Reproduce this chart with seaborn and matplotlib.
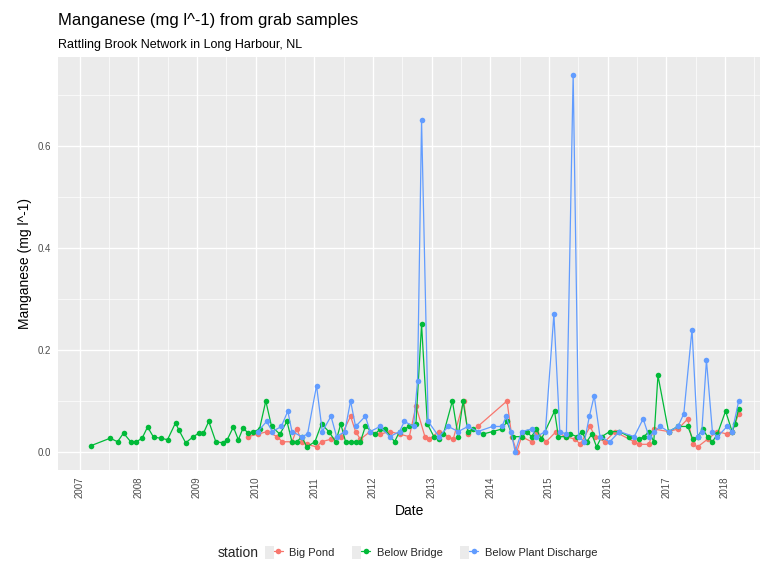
import matplotlib
matplotlib.use("Agg")
import matplotlib.pyplot as plt
from matplotlib.lines import Line2D
from matplotlib.patches import Patch
from matplotlib.legend_handler import HandlerTuple
import seaborn as sns
import pandas as pd

# ---------------- data ----------------
stations = ["Big Pond", "Below Bridge", "Below Plant Discharge"]
colors = ["#F8766D", "#00BA38", "#619CFF"]

big_pond_dates = [
    "2009-11-15", "2010-01-15", "2010-03-15", "2010-05-15", "2010-06-15", "2010-08-15",
    "2010-09-15", "2010-10-15", "2010-11-15", "2011-01-15", "2011-02-15", "2011-04-15",
    "2011-06-15", "2011-08-15", "2011-09-15", "2011-10-15", "2011-12-15", "2012-02-15",
    "2012-04-15", "2012-06-15", "2012-08-15", "2012-09-25", "2012-11-20", "2012-12-15",
    "2013-02-15", "2013-04-15", "2013-05-15", "2013-07-20", "2013-08-15", "2013-10-15",
    "2014-04-15", "2014-05-15", "2014-06-15", "2014-07-15", "2014-09-15", "2014-10-15",
    "2014-12-15", "2015-02-15", "2015-04-15", "2015-06-15", "2015-07-15", "2015-09-15",
    "2015-10-15", "2015-12-15", "2016-02-15", "2016-06-15", "2016-07-15", "2016-09-15",
    "2016-10-15", "2017-01-15", "2017-03-15", "2017-05-15", "2017-06-15", "2017-07-15",
    "2017-09-15", "2017-11-15", "2018-01-15", "2018-02-15", "2018-03-28",
]
big_pond_values = [
    0.030, 0.035, 0.040, 0.030, 0.020, 0.020,
    0.045, 0.020, 0.015, 0.010, 0.020, 0.025,
    0.030, 0.070, 0.040, 0.025, 0.040, 0.035,
    0.040, 0.035, 0.030, 0.090, 0.030, 0.025,
    0.040, 0.030, 0.025, 0.100, 0.035, 0.050,
    0.100, 0.030, 0.000, 0.030, 0.020, 0.040,
    0.020, 0.040, 0.030, 0.025, 0.015, 0.050,
    0.030, 0.020, 0.040, 0.020, 0.015, 0.015,
    0.045, 0.040, 0.045, 0.065, 0.015, 0.010,
    0.025, 0.040, 0.035, 0.040, 0.075,
]

below_bridge_dates = [
    "2007-03-10", "2007-07-10", "2007-08-25", "2007-10-01", "2007-11-15", "2007-12-20",
    "2008-01-25", "2008-02-28", "2008-04-05", "2008-05-20", "2008-07-01", "2008-08-20",
    "2008-09-10", "2008-10-22", "2008-12-05", "2009-01-12", "2009-02-10", "2009-03-15",
    "2009-04-28", "2009-06-10", "2009-07-08", "2009-08-15", "2009-09-15", "2009-10-15",
    "2009-11-15", "2009-12-15", "2010-01-25", "2010-03-05", "2010-04-10", "2010-06-01",
    "2010-07-15", "2010-08-15", "2010-09-15", "2010-10-15", "2010-11-15", "2011-01-05",
    "2011-02-15", "2011-04-01", "2011-05-15", "2011-06-15", "2011-07-15", "2011-08-15",
    "2011-09-15", "2011-10-15", "2011-11-15", "2012-01-15", "2012-02-15", "2012-03-15",
    "2012-05-15", "2012-06-15", "2012-07-15", "2012-08-15", "2012-09-25", "2012-10-30",
    "2012-12-05", "2013-01-15", "2013-02-15", "2013-03-15", "2013-05-10", "2013-06-15",
    "2013-07-15", "2013-08-15", "2013-09-15", "2013-11-15", "2014-01-15", "2014-03-15",
    "2014-04-15", "2014-05-20", "2014-07-15", "2014-08-15", "2014-09-15", "2014-10-15",
    "2014-11-15", "2015-02-05", "2015-03-01", "2015-04-15", "2015-05-15", "2015-06-25",
    "2015-07-25", "2015-08-25", "2015-09-25", "2015-10-25", "2015-11-25", "2016-01-15",
    "2016-03-15", "2016-05-15", "2016-07-15", "2016-08-15", "2016-09-15", "2016-10-15",
    "2016-11-10", "2017-01-15", "2017-03-15", "2017-05-15", "2017-06-15", "2017-07-15",
    "2017-08-15", "2017-09-15", "2017-10-15", "2017-11-15", "2018-01-05", "2018-02-15",
    "2018-03-05", "2018-03-28",
]
below_bridge_values = [
    0.012, 0.027, 0.020, 0.037, 0.020, 0.020,
    0.027, 0.049, 0.029, 0.027, 0.024, 0.057,
    0.043, 0.018, 0.029, 0.037, 0.037, 0.060,
    0.020, 0.018, 0.024, 0.049, 0.024, 0.047,
    0.037, 0.039, 0.045, 0.100, 0.050, 0.035,
    0.060, 0.020, 0.020, 0.030, 0.010, 0.020,
    0.055, 0.040, 0.020, 0.055, 0.020, 0.020,
    0.020, 0.020, 0.050, 0.035, 0.045, 0.045,
    0.020, 0.040, 0.045, 0.050, 0.055, 0.250,
    0.055, 0.030, 0.025, 0.035, 0.100, 0.030,
    0.100, 0.040, 0.045, 0.035, 0.040, 0.045,
    0.060, 0.030, 0.030, 0.040, 0.030, 0.045,
    0.025, 0.080, 0.030, 0.030, 0.035, 0.030,
    0.040, 0.020, 0.035, 0.010, 0.030, 0.040,
    0.040, 0.030, 0.025, 0.030, 0.040, 0.020,
    0.150, 0.040, 0.050, 0.050, 0.025, 0.030,
    0.045, 0.030, 0.020, 0.035, 0.080, 0.040,
    0.055, 0.085,
]

below_plant_dates = [
    "2010-01-15", "2010-03-10", "2010-04-15", "2010-06-10", "2010-07-20", "2010-08-15",
    "2010-10-15", "2010-11-20", "2011-01-15", "2011-02-20", "2011-04-15", "2011-05-20",
    "2011-07-10", "2011-08-15", "2011-09-15", "2011-11-15", "2011-12-15", "2012-02-15",
    "2012-04-15", "2012-06-15", "2012-07-15", "2012-09-10", "2012-10-05", "2012-10-30",
    "2012-12-10", "2013-02-15", "2013-04-15", "2013-06-15", "2013-08-15", "2013-10-15",
    "2014-01-15", "2014-03-15", "2014-04-10", "2014-05-10", "2014-06-05", "2014-07-15",
    "2014-09-15", "2014-10-15", "2014-12-10", "2015-02-01", "2015-03-10", "2015-04-20",
    "2015-06-01", "2015-07-05", "2015-08-10", "2015-09-10", "2015-10-10", "2015-11-15",
    "2016-01-15", "2016-03-15", "2016-06-15", "2016-08-10", "2016-09-15", "2016-10-15",
    "2016-11-25", "2017-01-15", "2017-03-15", "2017-04-20", "2017-06-10", "2017-07-15",
    "2017-08-10", "2017-09-08", "2017-10-15", "2017-11-15", "2018-01-15", "2018-02-15",
    "2018-03-28",
]
below_plant_values = [
    0.040, 0.060, 0.040, 0.050, 0.080, 0.040,
    0.030, 0.035, 0.130, 0.040, 0.070, 0.030,
    0.040, 0.100, 0.050, 0.070, 0.040, 0.050,
    0.030, 0.040, 0.060, 0.050, 0.140, 0.650,
    0.060, 0.030, 0.050, 0.040, 0.050, 0.040,
    0.050, 0.050, 0.070, 0.040, 0.000, 0.040,
    0.045, 0.030, 0.040, 0.270, 0.040, 0.035,
    0.740, 0.030, 0.020, 0.070, 0.110, 0.030,
    0.020, 0.040, 0.030, 0.065, 0.030, 0.040,
    0.050, 0.040, 0.050, 0.075, 0.240, 0.030,
    0.040, 0.180, 0.040, 0.030, 0.050, 0.040,
    0.100,
]

year_ticks = [str(y) for y in range(2007, 2019)]
y_ticks = [0.0, 0.2, 0.4, 0.6]

# ---------------- table ----------------
df = pd.concat([
    pd.DataFrame({"date": pd.to_datetime(big_pond_dates), "value": big_pond_values, "station": stations[0]}),
    pd.DataFrame({"date": pd.to_datetime(below_bridge_dates), "value": below_bridge_values, "station": stations[1]}),
    pd.DataFrame({"date": pd.to_datetime(below_plant_dates), "value": below_plant_values, "station": stations[2]}),
], ignore_index=True)

# ---------------- plot ----------------
sns.set_theme(style="darkgrid")
plt.rcParams["font.family"] = ["Liberation Sans", "DejaVu Sans"]

fig = plt.figure(figsize=(7.65, 5.64), dpi=100)
ax = fig.add_axes([0.076, 0.167, 0.918, 0.732])
ax.set_facecolor("#EBEBEB")

for st, col in zip(stations, colors):
    sub = df[df["station"] == st]
    sns.lineplot(data=sub, x="date", y="value", ax=ax, color=col, linewidth=0.9,
                 marker="o", markersize=4, markeredgewidth=0, estimator=None,
                 sort=True, legend=False)

ax.set_yticks(y_ticks)
ax.set_yticklabels([f"{v:.1f}" for v in y_ticks])
ax.set_yticks([0.1, 0.3, 0.5, 0.7], minor=True)

xt = [pd.Timestamp(f"{y}-01-01") for y in year_ticks]
ax.set_xticks(xt)
ax.set_xticklabels(year_ticks, rotation=90)
ax.set_xticks([pd.Timestamp(f"{y}-07-02") for y in range(2007, 2019)], minor=True)

# limits set after ticks so tick placement cannot widen them
ax.set_xlim(pd.Timestamp("2006-08-20"), pd.Timestamp("2018-08-10"))
ax.set_ylim(-0.035, 0.7745)

ax.grid(which="major", color="white", linewidth=1.0)
ax.grid(which="minor", color="white", linewidth=0.5)
ax.tick_params(axis="both", which="major", length=3, width=0.8, color="#333333",
               labelsize=7, labelcolor="#4D4D4D", pad=2)
ax.tick_params(axis="both", which="minor", length=0)
for s in ax.spines.values():
    s.set_visible(False)

ax.set_xlabel("Date", fontsize=10, color="black", labelpad=4)
ax.set_ylabel("Manganese (mg l^-1)", fontsize=10, color="black", labelpad=4)

fig.text(0.076, 0.955, "Manganese (mg l^-1) from grab samples", fontsize=12, color="black",
         ha="left", va="baseline")
fig.text(0.076, 0.915, "Rattling Brook Network in Long Harbour, NL", fontsize=9, color="black",
         ha="left", va="baseline")

handles = [(Patch(facecolor="#EBEBEB", edgecolor="none"),
            Line2D([0], [0], color=c, marker="o", markersize=4, linewidth=0.9,
                   markeredgewidth=0)) for c in colors]
fig.text(0.285, 0.012, "station", fontsize=10, ha="left", va="baseline")
fig.legend(handles, stations, loc="center left", bbox_to_anchor=(0.333, 0.02),
           ncol=3, frameon=False, fontsize=8, handlelength=1.6, handleheight=1.5,
           columnspacing=1.6, handletextpad=0.6,
           handler_map={tuple: HandlerTuple(ndivide=None, pad=0)})

fig.savefig("out.png", dpi=100, facecolor="white")
